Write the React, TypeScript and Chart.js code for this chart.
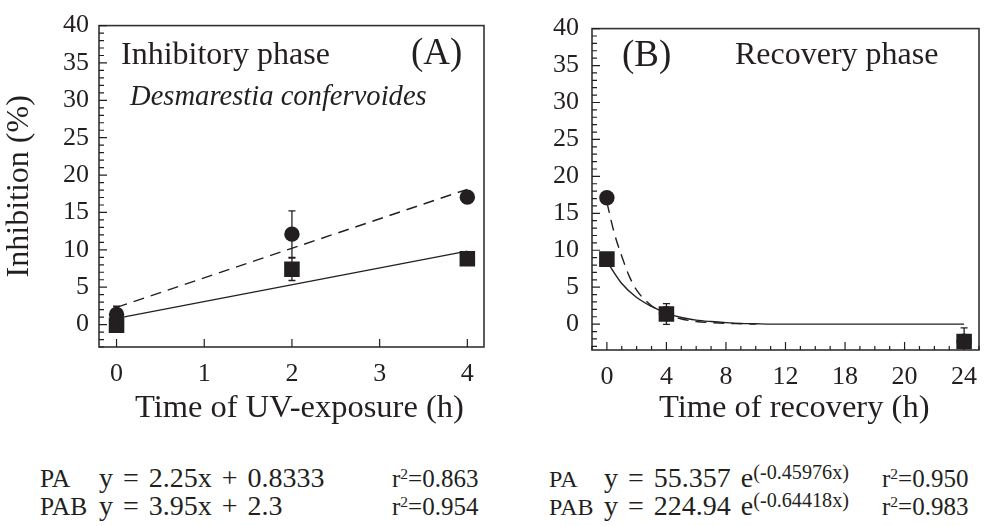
import React, { useEffect, useRef } from 'react';
import { Chart, registerables } from 'chart.js';

Chart.register(...registerables);

const FONT = '"Liberation Serif", "Times New Roman", serif';
const INK = '#231f20';

// ---------- Panel A: inhibitory phase ----------
const uvHours = [0, 2, 4];
const paA = [-0.1, 7.4, 8.8];
const paAErr = [0, 1.5, 0];
const pabA = [1.35, 12.1, 17.05];
const pabAErr = [1.1, 3.1, 0];
const fitHoursA = [0, 4];
const paFitA = [0.83, 9.83];
const pabFitA = [2.3, 18.1];
const xTicksA = [0, 1, 2, 3, 4];
const xLabelsA = ['0', '1', '2', '3', '4'];

// ---------- Panel B: recovery phase ----------
const recHours = [0, 4, 24];
const paB = [8.8, 1.37, -2.35];
const paBErr = [0, 1.4, 1.85];
const pabB = [17.1, 1.4, -2.3];
const pabBErr = [0, 0, 0];
const paFitHoursB = [0, 1, 2, 3, 4, 5, 6, 7, 8, 9, 10, 11, 24];
const paFitB = [8.5, 5.5, 3.6, 2.4, 1.5, 0.9, 0.55, 0.35, 0.2, 0.1, 0.05, 0, 0];
const pabFitHoursB = [0, 0.5, 1, 1.5, 2, 3, 4, 5, 6, 7, 8, 9, 10];
const pabFitB = [16.5, 12.3, 9.2, 6.5, 4.6, 2.5, 1.3, 0.7, 0.35, 0.2, 0.1, 0.05, 0];
const xTicksB = [0, 4, 8, 12, 16, 20, 24];
const xLabelsB = ['0', '4', '8', '12', '18', '20', '24'];

// ---------- shared y axis ----------
const yTicks = [0, 5, 10, 15, 20, 25, 30, 35, 40];
const yLabels = ['0', '5', '10', '15', '20', '25', '30', '35', '40'];

const framePlugin = {
  id: 'frame',
  afterDraw(chart: any, _args: any, opts: any) {
    const { ctx, chartArea: a, scales } = chart;
    const xs = scales.x;
    const ys = scales.y;
    ctx.save();
    ctx.strokeStyle = '#333333';
    ctx.lineWidth = 1.6;
    ctx.strokeRect(a.left, a.top, a.right - a.left, a.bottom - a.top);
    ctx.strokeStyle = INK;
    ctx.lineWidth = 1.2;
    ctx.beginPath();
    for (let v = Math.ceil(ys.min); v <= ys.max; v += 1) {
      const py = ys.getPixelForValue(v);
      const len = Math.abs(v % 5) === 0 ? 8 : 5;
      ctx.moveTo(a.left, py);
      ctx.lineTo(a.left + len, py);
    }
    const step = opts.xMinorStep || 1;
    for (let v = Math.ceil(xs.min / step) * step; v <= xs.max + 1e-9; v += step) {
      const major = xs.ticks.some((t: any) => Math.abs(t.value - v) < 1e-6);
      const px = xs.getPixelForValue(v);
      ctx.moveTo(px, a.bottom);
      ctx.lineTo(px, a.bottom - (major ? 8 : 4));
    }
    ctx.stroke();
    ctx.restore();
  },
};

const errorBarPlugin = {
  id: 'errorBars',
  afterDatasetsDraw(chart: any) {
    const ctx = chart.ctx;
    const ys = chart.scales.y;
    const a = chart.chartArea;
    ctx.save();
    ctx.beginPath();
    ctx.rect(a.left, a.top, a.right - a.left, a.bottom - a.top);
    ctx.clip();
    chart.data.datasets.forEach((ds: any, i: number) => {
      const errs = ds.errors;
      if (!errs) return;
      const meta = chart.getDatasetMeta(i);
      meta.data.forEach((pt: any, j: number) => {
        const e = errs[j];
        if (!e) return;
        const v = ds.data[j].y;
        const px = pt.x;
        const top = ys.getPixelForValue(v + e);
        const bot = ys.getPixelForValue(v - e);
        ctx.strokeStyle = INK;
        ctx.lineWidth = 1.3;
        ctx.beginPath();
        ctx.moveTo(px, top);
        ctx.lineTo(px, bot);
        ctx.moveTo(px - 3.5, top);
        ctx.lineTo(px + 3.5, top);
        ctx.moveTo(px - 3.5, bot);
        ctx.lineTo(px + 3.5, bot);
        ctx.stroke();
      });
    });
    ctx.restore();
  },
};

function pts(xs: number[], ys: number[]) {
  return xs.map((x, i) => ({ x, y: ys[i] }));
}

function markerSets(xs: number[], pa: number[], paErr: number[], pab: number[], pabErr: number[]) {
  return [
    {
      label: 'PA',
      data: pts(xs, pa),
      errors: paErr,
      showLine: false,
      pointStyle: 'rect',
      pointRadius: 11,
      backgroundColor: INK,
      borderColor: INK,
      borderWidth: 0,
    },
    {
      label: 'PAB',
      data: pts(xs, pab),
      errors: pabErr,
      showLine: false,
      pointStyle: 'circle',
      pointRadius: 7.7,
      backgroundColor: INK,
      borderColor: INK,
      borderWidth: 0,
    },
  ];
}

function fitSet(label: string, xs: number[], ys: number[], dashed: boolean, smooth: boolean) {
  return {
    label,
    data: pts(xs, ys),
    showLine: true,
    pointRadius: 0,
    borderColor: INK,
    borderWidth: 1.4,
    borderDash: dashed ? [11, 7] : [],
    fill: false,
    cubicInterpolationMode: smooth ? 'monotone' : 'default',
  };
}

function makeConfig(p: any) {
  const tickFont = { family: FONT, size: 26 };
  return {
    type: 'scatter',
    data: { datasets: p.datasets },
    options: {
      responsive: false,
      animation: false,
      events: [],
      layout: { padding: { left: 0, top: 20, right: p.rightPad, bottom: 0 } },
      plugins: {
        legend: { display: false },
        tooltip: { enabled: false },
        frame: { xMinorStep: p.xMinorStep },
      },
      scales: {
        x: {
          type: 'linear',
          min: p.xMin,
          max: p.xMax,
          grid: { display: false, drawTicks: false },
          border: { display: false },
          afterBuildTicks: (s: any) => {
            s.ticks = p.xTicks.map((v: number) => ({ value: v }));
          },
          afterFit: (s: any) => {
            s.height = p.xAxisHeight;
          },
          ticks: {
            padding: 12,
            color: INK,
            font: tickFont,
            maxRotation: 0,
            autoSkip: false,
            callback: (v: number) => {
              const k = p.xTicks.indexOf(v);
              return k >= 0 ? p.xLabels[k] : '';
            },
          },
          title: { display: false },
        },
        y: {
          type: 'linear',
          min: p.yMin,
          max: 40,
          grid: { display: false, drawTicks: false },
          border: { display: false },
          afterBuildTicks: (s: any) => {
            s.ticks = yTicks.map((v) => ({ value: v }));
          },
          afterFit: (s: any) => {
            s.width = p.yAxisWidth;
          },
          ticks: {
            padding: p.yTickPad,
            color: INK,
            font: tickFont,
            autoSkip: false,
            callback: (v: number) => {
              const k = yTicks.indexOf(v);
              return k >= 0 ? yLabels[k] : '';
            },
          },
          title: {
            display: !!p.yTitle,
            text: p.yTitle || '',
            color: INK,
            font: { family: FONT, size: 32 },
            padding: { top: 0, bottom: 0 },
          },
        },
      },
    },
    plugins: [framePlugin, errorBarPlugin],
  };
}

const configA = () =>
  makeConfig({
    datasets: [
      ...markerSets(uvHours, paA, paAErr, pabA, pabAErr),
      fitSet('PA fit', fitHoursA, paFitA, false, false),
      fitSet('PAB fit', fitHoursA, pabFitA, true, false),
    ],
    xMin: -0.2,
    xMax: 4.19,
    xTicks: xTicksA,
    xLabels: xLabelsA,
    xMinorStep: 1,
    yTitle: 'Inhibition (%)',
    yMin: -3,
    rightPad: 6,
    yAxisWidth: 99,
    xAxisHeight: 93,
    yTickPad: 10,
  });

const configB = () =>
  makeConfig({
    datasets: [
      ...markerSets(recHours, paB, paBErr, pabB, pabBErr),
      fitSet('PA fit', paFitHoursB, paFitB, false, true),
      fitSet('PAB fit', pabFitHoursB, pabFitB, true, true),
    ],
    xMin: -1,
    xMax: 25,
    xTicks: xTicksB,
    xLabels: xLabelsB,
    xMinorStep: 1,
    yTitle: '',
    yMin: -3.5,
    rightPad: 8,
    yAxisWidth: 97,
    xAxisHeight: 90,
    yTickPad: 13,
  });

function Panel({ make, left }: { make: () => any; left: number }) {
  const ref = useRef<HTMLCanvasElement | null>(null);
  useEffect(() => {
    const chart = new Chart(ref.current as HTMLCanvasElement, make());
    return () => chart.destroy();
  }, []);
  return (
    <canvas
      ref={ref}
      width={495}
      height={440}
      style={{ position: 'absolute', left, top: 0, width: 495, height: 440 }}
    />
  );
}

const txt = (size: number, left: number, baseline: number, extra: any = {}) => ({
  position: 'absolute' as const,
  left,
  top: baseline - 0.8375 * size,
  fontFamily: FONT,
  fontSize: size,
  lineHeight: 1,
  color: INK,
  whiteSpace: 'nowrap' as const,
  ...extra,
});

const eqSup = { fontSize: '0.72em', verticalAlign: '0.42em', lineHeight: 0 };
const rSup = { fontSize: '0.62em', verticalAlign: '0.5em', lineHeight: 0 };
const EQ = 28;
const LBL = 25.5;
const LBL_B = 24;
const eqStyle = { wordSpacing: 3 };

export default function App() {
  return (
    <div style={{ position: 'absolute', left: 0, top: 0, width: 990, height: 526, background: '#fff', overflow: 'hidden' }}>
      <Panel make={configA} left={0} />
      <Panel make={configB} left={495} />

      <div style={txt(32.5, 135, 417)}>Time of UV-exposure (h)</div>
      <div style={txt(32.5, 659, 417)}>Time of recovery (h)</div>

      <div style={txt(32, 121, 64)}>Inhibitory phase</div>
      <div style={txt(37, 411, 64)}>(A)</div>
      <div style={txt(28.6, 130, 106, { fontStyle: 'italic' })}>Desmarestia confervoides</div>
      <div style={txt(37, 622, 66)}>(B)</div>
      <div style={txt(32, 735, 63.5)}>Recovery phase</div>

      <div style={txt(LBL, 40, 487)}>PA</div>
      <div style={txt(EQ, 99, 487, eqStyle)}>y = 2.25x + 0.8333</div>
      <div style={txt(25, 392, 487)}>r<sup style={rSup}>2</sup>=0.863</div>
      <div style={txt(LBL, 40, 515)}>PAB</div>
      <div style={txt(EQ, 99, 515, eqStyle)}>y = 3.95x + 2.3</div>
      <div style={txt(25, 392, 515)}>r<sup style={rSup}>2</sup>=0.954</div>

      <div style={txt(LBL_B, 549, 487)}>PA</div>
      <div style={txt(EQ, 604, 487, eqStyle)}>
        y = 55.357 e<sup style={eqSup}>(-0.45976x)</sup>
      </div>
      <div style={txt(25, 882, 487)}>r<sup style={rSup}>2</sup>=0.950</div>
      <div style={txt(LBL_B, 549, 515)}>PAB</div>
      <div style={txt(EQ, 604, 515, eqStyle)}>
        y = 224.94 e<sup style={eqSup}>(-0.64418x)</sup>
      </div>
      <div style={txt(25, 882, 515)}>r<sup style={rSup}>2</sup>=0.983</div>
    </div>
  );
}
